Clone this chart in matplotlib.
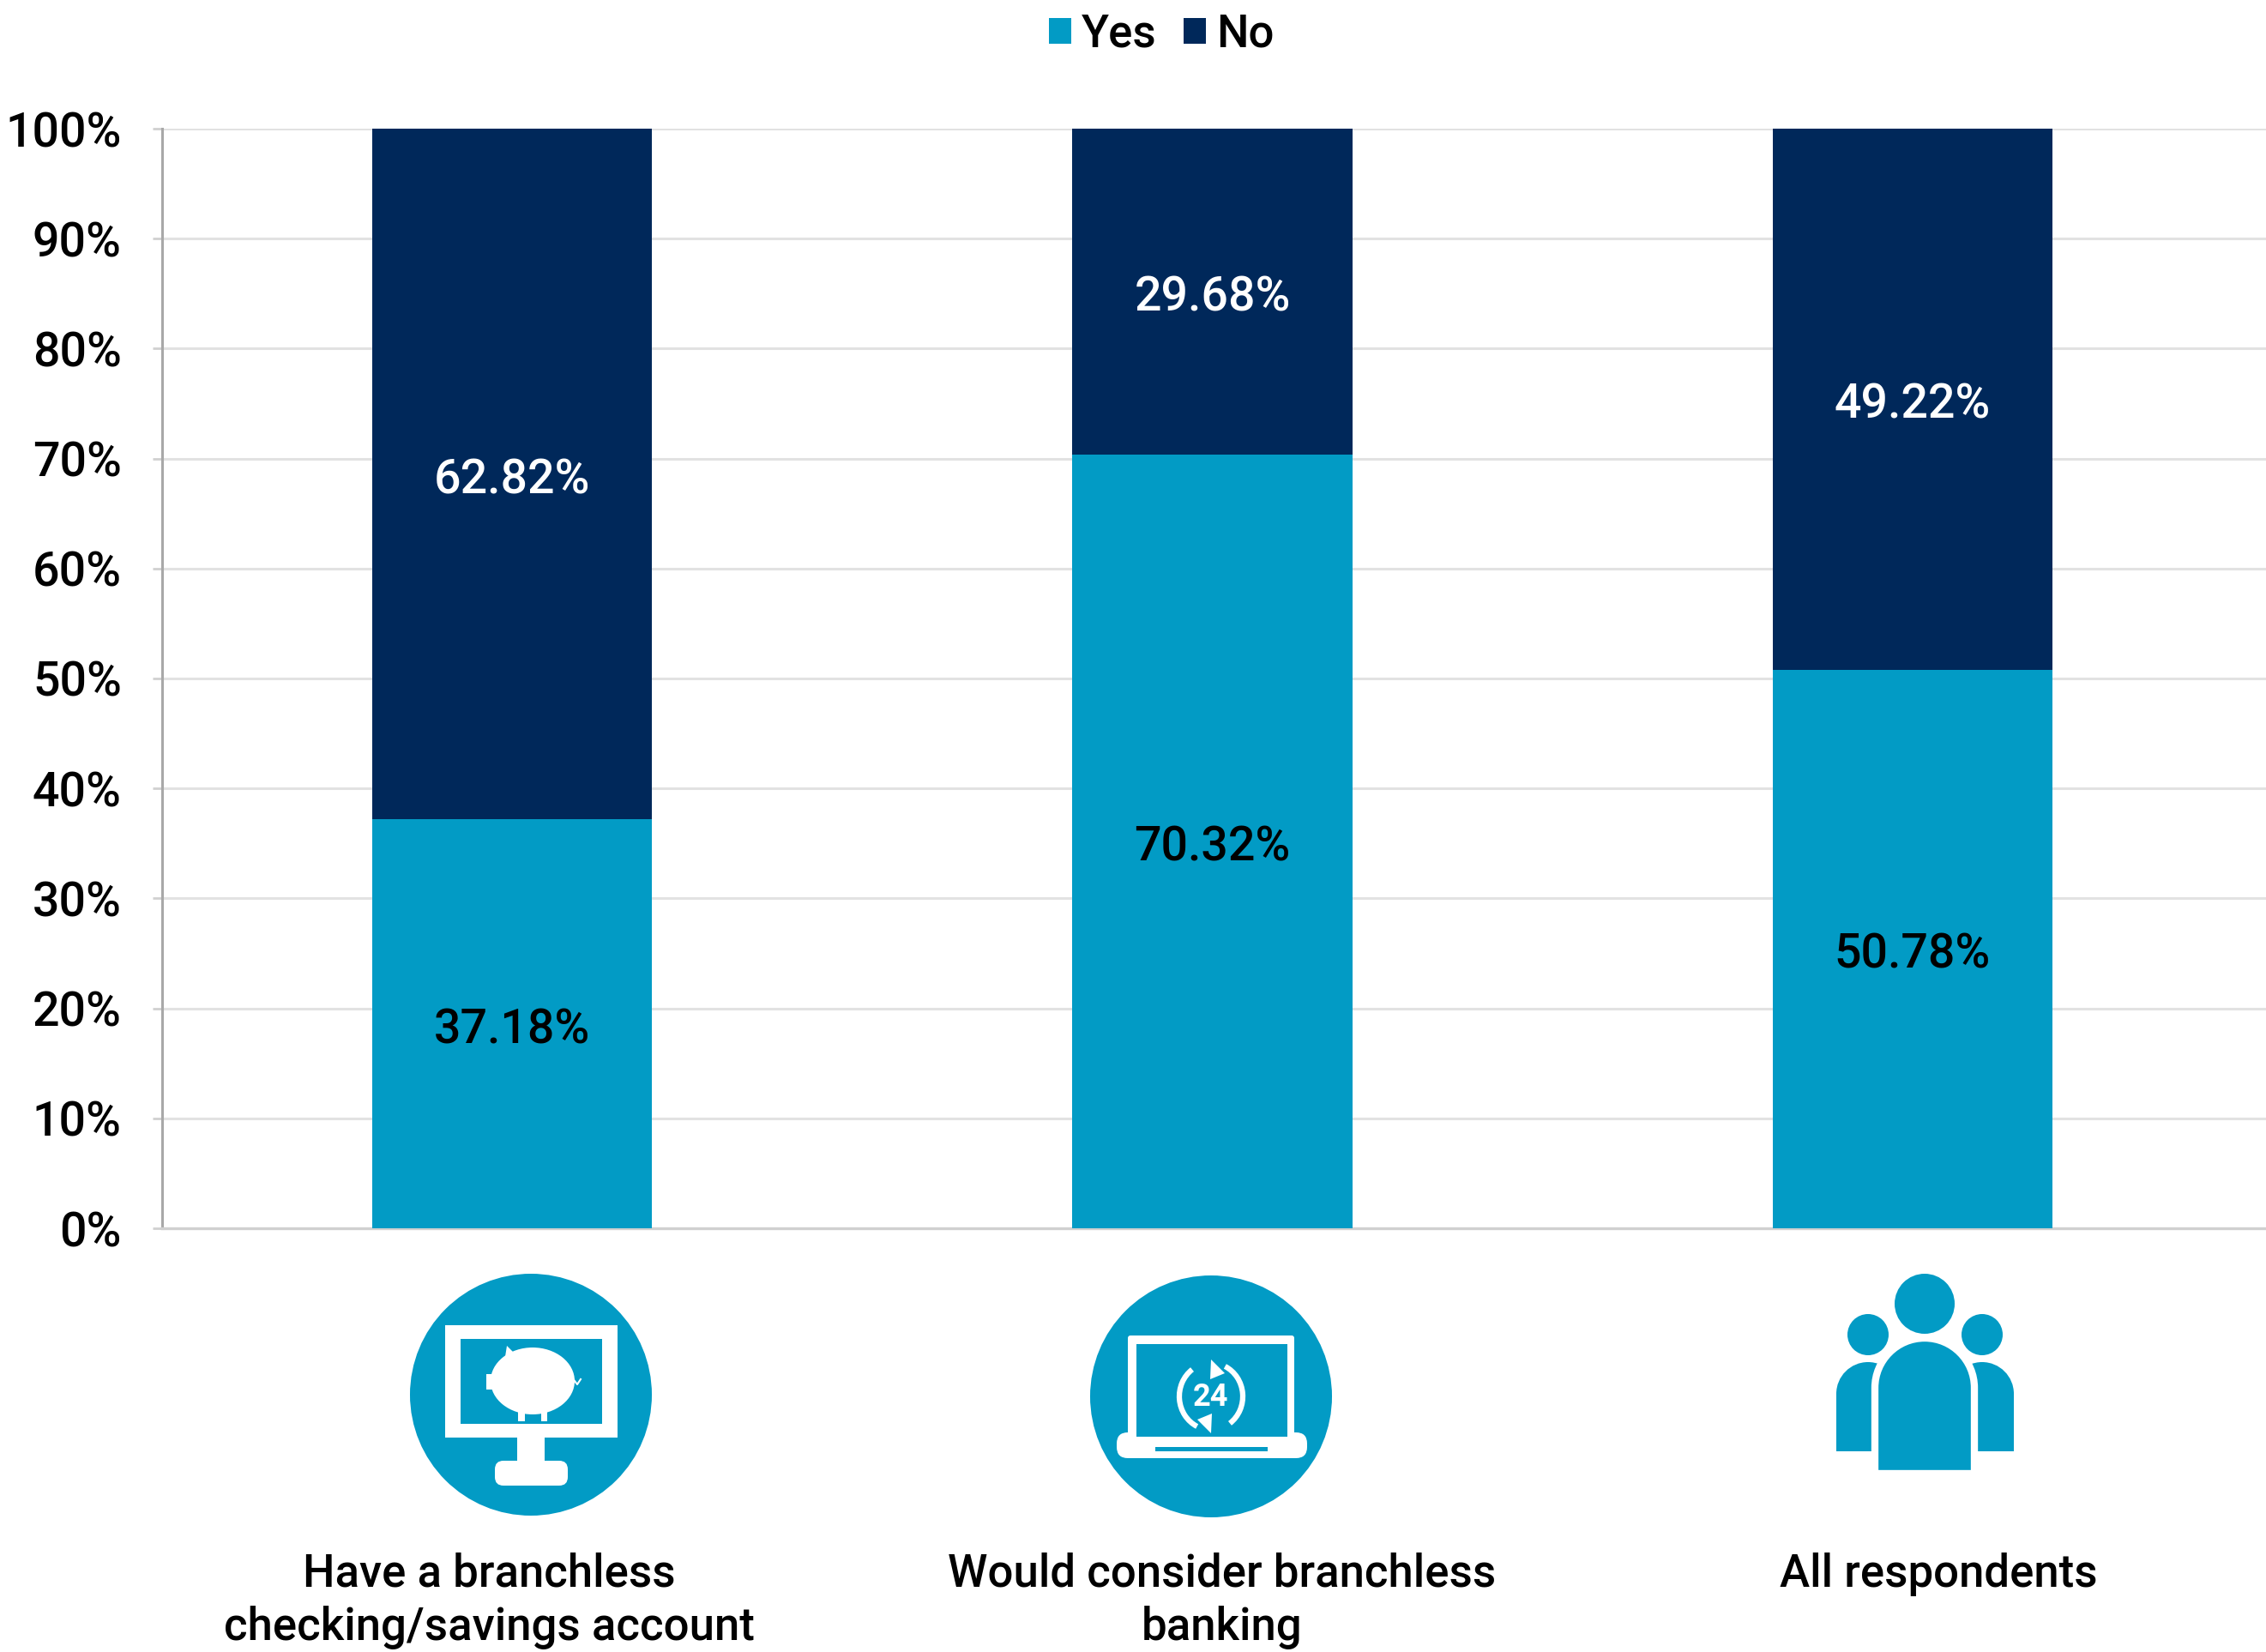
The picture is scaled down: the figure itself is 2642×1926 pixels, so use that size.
import matplotlib.pyplot as plt
from matplotlib.patches import Circle, Ellipse, FancyBboxPatch, Polygon, Rectangle, PathPatch, Arc
from matplotlib.path import Path

W, H = 2642, 1926
BLUE = "#029BC5"
NAVY = "#00285A"

categories = ["Have a branchless\nchecking/savings account", "Would consider branchless\nbanking", "All respondents"]
yes_values = [37.18, 70.32, 50.78]
no_values = [62.82, 29.68, 49.22]
y_ticks = [0, 10, 20, 30, 40, 50, 60, 70, 80, 90, 100]

plt.rcParams["font.family"] = ["Roboto", "DejaVu Sans"]
plt.rcParams["font.weight"] = 500
FS = 40

fig = plt.figure(figsize=(W / 100, H / 100), dpi=100)
ax = fig.add_axes([189 / W, 1 - 1432 / H, (W - 189) / W, (1432 - 150) / H])

x = list(range(len(categories)))
yes_bars = ax.bar(x, yes_values, width=0.4, color=BLUE, label="Yes", zorder=3)
no_bars = ax.bar(x, no_values, width=0.4, bottom=yes_values, color=NAVY, label="No", zorder=3)

for i in x:
    ax.annotate(f"{yes_values[i]:.2f}%", (i, yes_values[i] / 2), xytext=(0, -5), textcoords="offset points",
                ha="center", va="center", fontsize=FS, color="black", zorder=4)
    ax.annotate(f"{no_values[i]:.2f}%", (i, yes_values[i] + no_values[i] / 2), xytext=(0, -5), textcoords="offset points",
                ha="center", va="center", fontsize=FS, color="white", zorder=4)

ax.set_xlim(-0.5, 2.505)
ax.set_ylim(0, 100)
ax.set_xticks([])
ax.set_yticks(y_ticks)
ax.set_yticklabels([f"{t}%" for t in y_ticks], fontsize=FS, color="black")
ax.tick_params(axis="y", length=8, width=2, color="#d0d0d0", pad=26)
ax.grid(axis="y", color="#e2e2e2", linewidth=2.2, zorder=0)
ax.set_axisbelow(True)
for side in ["top", "right"]:
    ax.spines[side].set_visible(False)
ax.spines["left"].set_color("#a8a8a8")
ax.spines["left"].set_linewidth(2.2)
ax.spines["bottom"].set_color("#d0d0d0")
ax.spines["bottom"].set_linewidth(2.4)

fig.legend(
    handles=[yes_bars, no_bars],
    labels=["Yes", "No"],
    loc="center",
    bbox_to_anchor=(1354 / W, 1 - 40 / H),
    ncol=2,
    frameon=False,
    fontsize=38,
    handlelength=0.5,
    handleheight=0.5,
    handletextpad=0.22,
    columnspacing=0.6,
    borderpad=0,
)

# overlay in image pixels for the icons and the category captions
ov = fig.add_axes([0, 0, 1, 1], zorder=5)
ov.set_xlim(0, W)
ov.set_ylim(H, 0)
ov.axis("off")
ov.patch.set_alpha(0)


def rect(x0, y0, x1, y1, color="white"):
    ov.add_patch(Rectangle((x0, y0), x1 - x0, y1 - y0, facecolor=color, edgecolor="none"))


def rounded(x0, y0, x1, y1, r, color="white"):
    ov.add_patch(FancyBboxPatch((x0 + r, y0 + r), x1 - x0 - 2 * r, y1 - y0 - 2 * r,
                                boxstyle=f"round,pad={r},rounding_size={r}", facecolor=color, edgecolor="none"))


def arch(x0, x1, top, bottom, color=BLUE, edge="none", lw=0):
    # rounded top, flat bottom
    r = (x1 - x0) / 2
    k = 0.5523 * r
    cx = (x0 + x1) / 2
    verts = [(x0, bottom), (x0, top + r), (x0, top + r - k), (cx - k, top), (cx, top),
             (cx + k, top), (x1, top + r - k), (x1, top + r), (x1, bottom), (x0, bottom)]
    codes = [Path.MOVETO, Path.LINETO, Path.CURVE4, Path.CURVE4, Path.CURVE4,
             Path.CURVE4, Path.CURVE4, Path.CURVE4, Path.LINETO, Path.CLOSEPOLY]
    ov.add_patch(PathPatch(Path(verts, codes), facecolor=color, edgecolor=edge, linewidth=lw))


# desktop with piggy bank
ov.add_patch(Circle((619, 1626), 141, facecolor=BLUE, edgecolor="none"))
rect(519, 1545, 720, 1676)
rect(537, 1561, 702, 1660, BLUE)
rect(603, 1676, 635, 1708)
rounded(577, 1703, 662, 1732, 10)
ov.add_patch(Ellipse((621, 1610), 98, 78, facecolor="white", edgecolor="none"))
rect(567, 1602, 578, 1620)
ov.add_patch(Polygon([(588, 1588), (591, 1569), (600, 1578)], facecolor="white", edgecolor="none"))
rect(604, 1640, 612, 1657)
rect(631, 1640, 638, 1657)
ov.plot([667, 673, 677], [1606, 1614, 1608], color="white", lw=1.5)

# laptop with 24h sign
ov.add_patch(Circle((1412, 1628), 141, facecolor=BLUE, edgecolor="none"))
rounded(1315, 1557, 1509, 1680, 3)
rounded(1302, 1670, 1524, 1700, 13)
rect(1325, 1567, 1501, 1675, BLUE)
rect(1347, 1687, 1478, 1692, BLUE)
ov.add_patch(Arc((1412, 1628), 74, 78, theta1=-65, theta2=55, edgecolor="white", linewidth=4.5))
ov.add_patch(Arc((1412, 1628), 74, 78, theta1=115, theta2=235, edgecolor="white", linewidth=4.5))
ov.add_patch(Polygon([(1412, 1585), (1428, 1601), (1411, 1608)], facecolor="white", edgecolor="none"))
ov.add_patch(Polygon([(1412, 1671), (1396, 1655), (1413, 1648)], facecolor="white", edgecolor="none"))
ov.text(1412, 1629, "24", ha="center", va="center", fontsize=26, fontweight="bold", color="white")

# group of people
ov.add_patch(Circle((2244, 1520), 35, facecolor=BLUE, edgecolor="none"))
ov.add_patch(Circle((2178, 1556), 24, facecolor=BLUE, edgecolor="none"))
ov.add_patch(Circle((2311, 1556), 24, facecolor=BLUE, edgecolor="none"))
arch(2141, 2215, 1588, 1692)
arch(2274, 2348, 1588, 1692)
arch(2186, 2302, 1560, 1718, edge="white", lw=6)

caption_x = [570, 1425, 2260]
for cx, label in zip(caption_x, categories):
    ov.text(cx, 1810, label, ha="center", va="top", fontsize=38, color="black", linespacing=1.28)

fig.savefig("out.png", dpi=100)
